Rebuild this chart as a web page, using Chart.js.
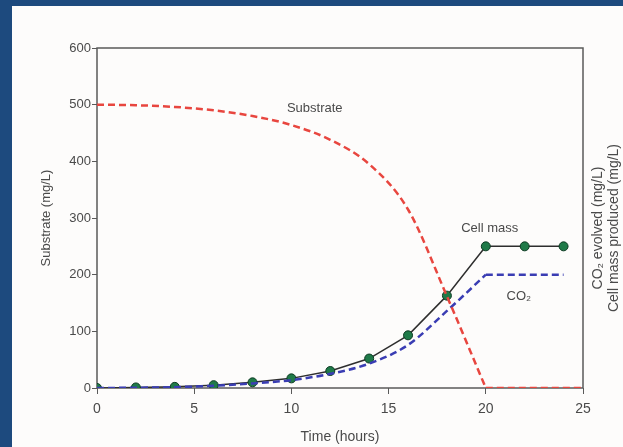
<!DOCTYPE html>
<html>
<head>
<meta charset="utf-8">
<script src="https://cdn.jsdelivr.net/npm/chart.js@4"></script>
<style>
  html, body { margin: 0; padding: 0; background: #1d4a7e; width: 623px; height: 447px; overflow: hidden; }
  #wrap { position: absolute; left: 12px; top: 6px; width: 611px; height: 441px; background: #fdfcfb; }
  canvas { display: block; }
</style>
</head>
<body>
<div id="wrap"><canvas id="c" width="611" height="441"></canvas></div>
<script>
// ---- data ----
const timeTicks = [0, 5, 10, 15, 20, 25];
const substrateTicks = [0, 100, 200, 300, 400, 500, 600];

const substrateTime = [0, 2, 4, 6, 8, 10, 12, 14, 16, 18, 20];
const substrate     = [500, 499, 496, 490, 480, 464, 438, 395, 315, 162, 0];
const substrateTailTime = [20, 22, 24, 25];
const substrateTail     = [0, 0, 0, 0];

const cellTime = [0, 2, 4, 6, 8, 10, 12, 14, 16, 18, 20, 22, 24];
const cellMass = [0, 1, 2, 5, 10, 17, 30, 52, 93, 163, 250, 250, 250];

const co2Time = [0, 2, 4, 6, 8, 10, 12, 14, 16, 18, 20];
const co2     = [0, 0.5, 1.5, 4, 8, 14, 25, 43, 76, 136, 200];
const co2TailTime = [20, 22, 24];
const co2Tail     = [200, 200, 200];

const labels = ['Substrate', 'Cell mass', 'CO₂'];
const rightTitle = ['CO₂ evolved (mg/L)', 'Cell mass produced (mg/L)'];

const pts = (xs, ys) => xs.map((x, i) => ({ x, y: ys[i] }));

const RED = '#e8463f', BLUE = '#3a3db3', TEXT = '#4a4a4a', AXIS = '#5a5a5a';
const FONT = 'Liberation Sans, Arial, sans-serif';

const overlay = {
  id: 'overlay',
  beforeDatasetsDraw(chart) {
    const { ctx, chartArea: a } = chart;
    ctx.save();
    ctx.strokeStyle = AXIS;
    ctx.lineWidth = 1.5;
    ctx.strokeRect(a.left, a.top, a.right - a.left, a.bottom - a.top);
    ctx.restore();
  },
  afterDatasetsDraw(chart) {
    const { ctx } = chart;
    const xs = chart.scales.x, ys = chart.scales.y;
    const spots = [[11.2, 494], [20.2, 281], [21.7, 162]];
    ctx.save();
    ctx.fillStyle = TEXT;
    ctx.font = '13px ' + FONT;
    ctx.textAlign = 'center';
    ctx.textBaseline = 'middle';
    labels.forEach((t, i) => {
      ctx.fillText(t, xs.getPixelForValue(spots[i][0]), ys.getPixelForValue(spots[i][1]));
    });
    // right axis title (reads bottom to top)
    ctx.font = '14px ' + FONT;
    ctx.translate(586, 222);
    ctx.rotate(-Math.PI / 2);
    ctx.fillText(rightTitle[0], 0, 0);
    ctx.fillText(rightTitle[1], 0, 16);
    ctx.restore();
  }
};

new Chart(document.getElementById('c'), {
  type: 'line',
  data: {
    datasets: [
      { data: pts(substrateTime, substrate), borderColor: RED, borderWidth: 2.5, borderDash: [7, 4],
        pointRadius: 0, cubicInterpolationMode: 'monotone', fill: false },
      { data: pts(substrateTailTime, substrateTail), borderColor: RED, borderWidth: 2.5, borderDash: [7, 4],
        pointRadius: 0, fill: false },
      { data: pts(co2Time, co2), borderColor: BLUE, borderWidth: 2.5, borderDash: [7, 4],
        pointRadius: 0, cubicInterpolationMode: 'monotone', fill: false },
      { data: pts(co2TailTime, co2Tail), borderColor: BLUE, borderWidth: 2.5, borderDash: [7, 4],
        pointRadius: 0, fill: false },
      { data: pts(cellTime, cellMass), borderColor: '#2e2e2e', borderWidth: 1.5, tension: 0,
        pointRadius: 4.5, pointBackgroundColor: '#1f7a48', pointBorderColor: '#0d3a22', pointBorderWidth: 1, fill: false }
    ]
  },
  options: {
    responsive: false,
    animation: false,
    events: [],
    layout: { padding: { left: 0, right: 40, top: 42, bottom: 0 } },
    plugins: { legend: { display: false }, tooltip: { enabled: false } },
    scales: {
      x: {
        type: 'linear', min: 0, max: 25,
        afterBuildTicks: s => { s.ticks = timeTicks.map(v => ({ value: v })); },
        afterFit: s => { s.height = 59; },
        grid: { drawOnChartArea: false, tickLength: 6, color: AXIS, tickColor: AXIS },
        border: { display: false },
        ticks: { color: TEXT, padding: 7, font: { size: 14, family: FONT }, maxRotation: 0 },
        title: { display: true, text: 'Time (hours)', color: TEXT, font: { size: 14, family: FONT }, padding: { top: 4, bottom: 1 } }
      },
      y: {
        min: 0, max: 600,
        afterBuildTicks: s => { s.ticks = substrateTicks.map(v => ({ value: v })); },
        afterFit: s => { s.width = 85; },
        grid: { drawOnChartArea: false, tickLength: 5, color: AXIS, tickColor: AXIS },
        border: { display: false },
        ticks: { color: TEXT, padding: 1, font: { size: 13, family: FONT } },
        title: { display: true, text: 'Substrate (mg/L)', color: TEXT, font: { size: 13, family: FONT }, padding: { top: 27, bottom: 4 } }
      }
    }
  },
  plugins: [overlay]
});
</script>
</body>
</html>
